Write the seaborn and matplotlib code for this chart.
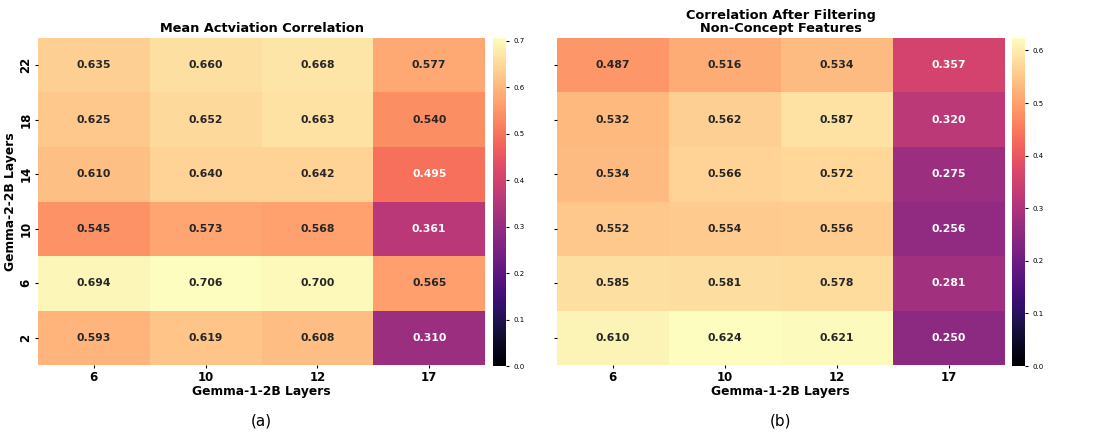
import matplotlib
matplotlib.use("Agg")
import matplotlib.pyplot as plt
import seaborn as sns
import numpy as np
import pandas as pd

x_layers = ["6", "10", "12", "17"]
y_layers = ["22", "18", "14", "10", "6", "2"]

mean_act = [
    [0.635, 0.660, 0.668, 0.577],
    [0.625, 0.652, 0.663, 0.540],
    [0.610, 0.640, 0.642, 0.495],
    [0.545, 0.573, 0.568, 0.361],
    [0.694, 0.706, 0.700, 0.565],
    [0.593, 0.619, 0.608, 0.310],
]
filtered = [
    [0.487, 0.516, 0.534, 0.357],
    [0.532, 0.562, 0.587, 0.320],
    [0.534, 0.566, 0.572, 0.275],
    [0.552, 0.554, 0.556, 0.256],
    [0.585, 0.581, 0.578, 0.281],
    [0.610, 0.624, 0.621, 0.250],
]

titles = ["Mean Actviation Correlation", "Correlation After Filtering\nNon-Concept Features"]
captions = ["(a)", "(b)"]

fig = plt.figure(figsize=(11, 4.4), dpi=100)
ax_pos = [[0.0345, 0.170, 0.4065, 0.744], [0.506, 0.170, 0.4075, 0.744]]
cb_pos = [[0.448, 0.168, 0.012, 0.746], [0.920, 0.168, 0.012, 0.746]]

for i, data in enumerate([mean_act, filtered]):
    df = pd.DataFrame(data, index=y_layers, columns=x_layers)
    ax = fig.add_axes(ax_pos[i])
    cax = fig.add_axes(cb_pos[i])
    sns.heatmap(df, ax=ax, cbar_ax=cax, cmap="magma", vmin=0, vmax=df.values.max(),
                annot=True, fmt=".3f", annot_kws={"fontsize": 7.8, "fontweight": "bold"})
    ax.set_title(titles[i], fontsize=9.3, fontweight="bold", pad=4.5, linespacing=1.0)
    ax.tick_params(axis="both", length=2.5, pad=1.5)
    ax.set_xlabel("Gemma-1-2B Layers", fontsize=8.8, fontweight="bold", labelpad=1)
    if i == 0:
        ax.set_ylabel("Gemma-2-2B Layers", fontsize=8.8, fontweight="bold", labelpad=1.5)
        for t in ax.get_yticklabels():
            t.set_fontweight("bold")
            t.set_fontsize(8.5)
            t.set_rotation(90)
    else:
        ax.set_ylabel("")
        ax.set_yticklabels([])
    for t in ax.get_xticklabels():
        t.set_fontweight("bold")
        t.set_fontsize(8.5)
    cax.tick_params(labelsize=5, length=2)
    fig.text(ax_pos[i][0] + ax_pos[i][2] / 2, 0.034, captions[i], ha="center", fontsize=11)

fig.savefig("out.png", dpi=100)
